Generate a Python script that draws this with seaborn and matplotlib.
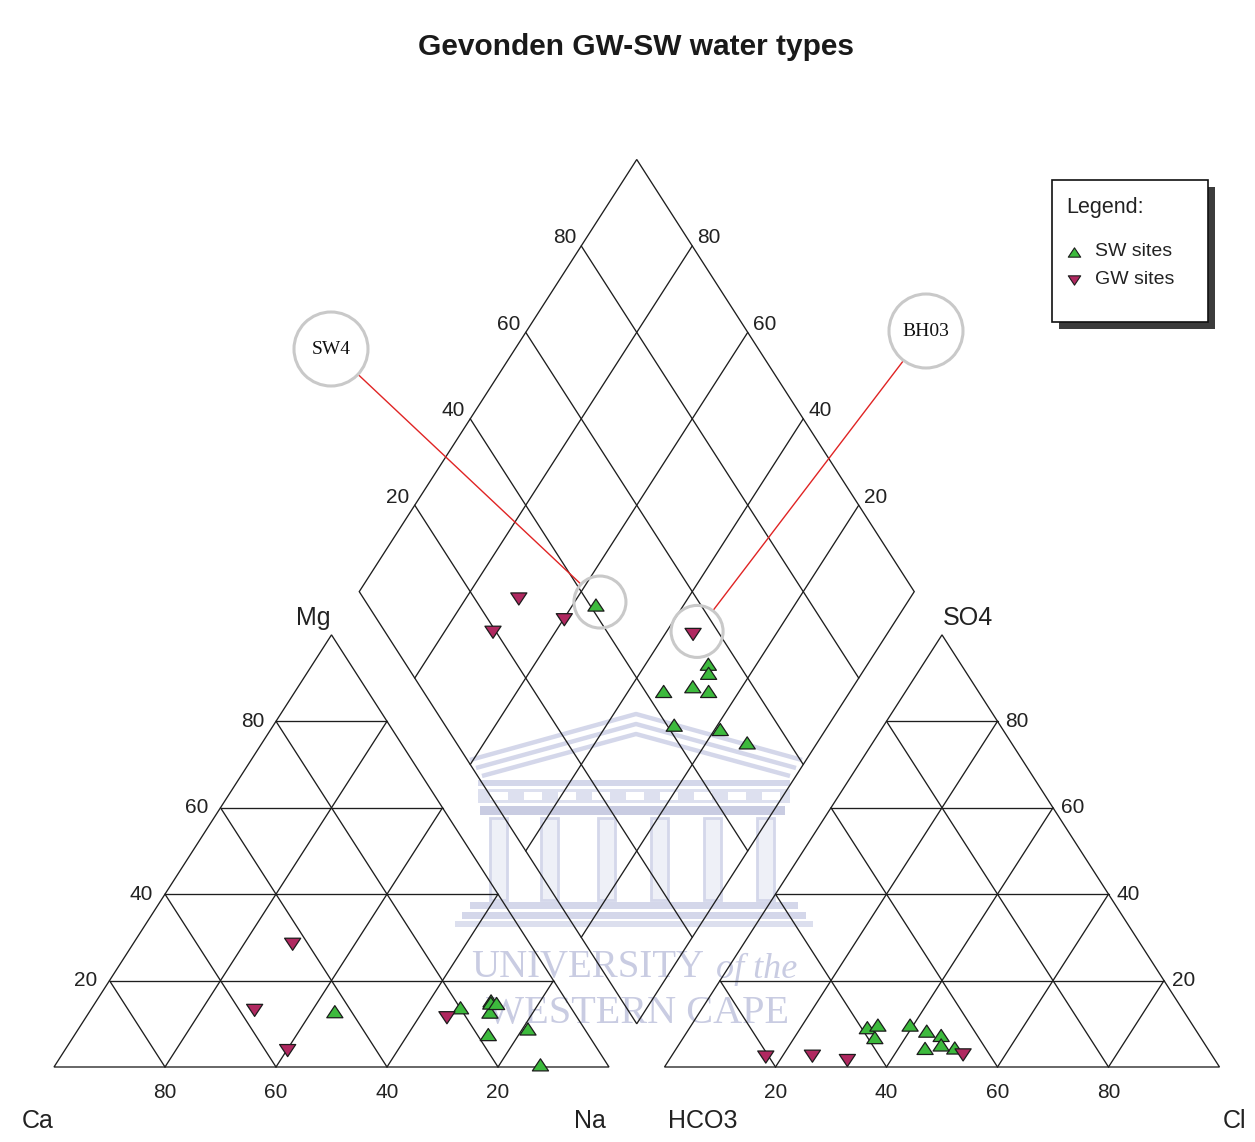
import numpy as np
import pandas as pd
import matplotlib
matplotlib.use("Agg")
import matplotlib.pyplot as plt
from matplotlib.patches import Polygon, Rectangle, Ellipse
from matplotlib.path import Path
import seaborn as sns

# ---------------------------------------------------------------------------
# Major ion composition (percent of meq/L)
# ---------------------------------------------------------------------------
# Surface-water sites
sw_ca = [43.0, 19.9, 15.1, 13.6, 13.9, 12.9, 18.0, 10.2, 12.1]
sw_mg = [12.8, 13.7, 12.7, 15.3, 14.8, 14.7, 7.5, 8.8, 0.5]
sw_na = [44.2, 66.4, 72.2, 71.1, 71.3, 72.4, 74.5, 81.0, 87.4]
sw_hco3 = [58.9, 56.7, 58.7, 50.9, 45.5, 46.5, 48.6, 50.9, 47.6]
sw_so4 = [9.1, 9.7, 6.8, 9.7, 4.4, 7.3, 8.3, 4.3, 5.1]
sw_cl = [32.0, 33.6, 34.5, 39.4, 50.1, 46.2, 43.1, 44.8, 47.3]

# Groundwater sites
gw_ca = [42.8, 57.3, 56.0, 23.5]
gw_mg = [28.4, 13.1, 3.8, 11.4]
gw_na = [28.8, 29.6, 40.2, 65.1]
gw_hco3 = [80.6, 72.1, 66.3, 44.8]
gw_so4 = [2.3, 2.5, 1.5, 2.8]
gw_cl = [17.1, 25.4, 32.2, 52.4]

group_names = ["SW sites", "GW sites"]
tick_values = [20, 40, 60, 80]
# highlighted samples: label -> (group, index in group)
callouts = {"SW4": ("SW", 0), "BH03": ("GW", 3)}

title = "Gevonden GW-SW water types"

# ---------------------------------------------------------------------------
# Piper geometry (triangle side = 100, gap between triangles = 10)
# ---------------------------------------------------------------------------
S = np.sqrt(3) / 2
GAP = 10.0
OFF = 100 + GAP


def cation_xy(ca, mg, na):
    tot = np.asarray(ca) + np.asarray(mg) + np.asarray(na)
    mg = 100 * np.asarray(mg) / tot
    na = 100 * np.asarray(na) / tot
    return na + mg / 2, mg * S


def anion_xy(hco3, so4, cl):
    tot = np.asarray(hco3) + np.asarray(so4) + np.asarray(cl)
    so4 = 100 * np.asarray(so4) / tot
    cl = 100 * np.asarray(cl) / tot
    return OFF + cl + so4 / 2, so4 * S


def diamond_xy(ca, mg, na, hco3, so4, cl):
    xc, yc = cation_xy(ca, mg, na)
    xa, ya = anion_xy(hco3, so4, cl)
    t = (xa - xc) + (ya - yc) / (2 * S)
    return xc + t / 2, yc + t * S


# page layout: map pixel positions to diagram units
X0, SX, Y0, SY = 54.0, 5.55, 1067.0, 4.99
W, H = 1255, 1142


def U(px, py):
    return (px - X0) / SX, (Y0 - py) / SY


def dx(p):
    return p / SX


def dy(p):
    return p / SY


# ---------------------------------------------------------------------------
sns.set_theme(style="white")
plt.rcParams["font.family"] = ["Liberation Sans", "DejaVu Sans"]

fig = plt.figure(figsize=(W / 100, H / 100), dpi=100)
ax = fig.add_axes([0, 0, 1, 1])
ax.set_xlim(U(0, 0)[0], U(W, 0)[0])
ax.set_ylim(U(0, H)[1], U(0, 0)[1])
ax.axis("off")

# --- faint university watermark --------------------------------------------
wm = "#d4d7ea"
wm_dark = "#c9cce2"
for k, (xl, xr, ya, ye) in enumerate([(470, 802, 714, 760), (476, 796, 724, 768), (482, 790, 734, 776)]):
    pts = [U(xl, ye), U(636, ya), U(xr, ye)]
    ax.plot([p[0] for p in pts], [p[1] for p in pts], color=wm, lw=3.2, zorder=0.5,
            solid_capstyle="butt")
for (x, y, w_, h_, c) in [(478, 780, 312, 6, wm), (478, 789, 312, 14, "#dde0ef"),
                          (480, 806, 305, 9, wm_dark), (470, 902, 328, 7, wm),
                          (462, 912, 344, 7, wm), (455, 921, 358, 6, "#dcdfee")]:
    x0_, y0_ = U(x, y + h_)
    ax.add_patch(Rectangle((x0_, y0_), dx(w_), dy(h_), facecolor=c, edgecolor="none", zorder=0.5))
for xw in range(490, 780, 34):
    x0_, y0_ = U(xw, 800)
    ax.add_patch(Rectangle((x0_, y0_), dx(18), dy(8), facecolor="white", edgecolor="none", zorder=0.55))
for xc_ in [490, 541, 598, 651, 704, 757]:
    x0_, y0_ = U(xc_, 900)
    ax.add_patch(Rectangle((x0_, y0_), dx(17), dy(82), facecolor="#eef0f7", edgecolor=wm,
                           lw=2.0, zorder=0.5))
serif = ["Liberation Serif", "DejaVu Serif"]
ax.text(*U(588, 967), "UNIVERSITY", fontsize=28, family=serif, color=wm_dark,
        ha="center", va="center", zorder=0.6)
ax.text(*U(757, 969), "of the", fontsize=26, family=serif, style="italic", color=wm_dark,
        ha="center", va="center", zorder=0.6)
ax.text(*U(638, 1013), "WESTERN CAPE", fontsize=29, family=serif, color=wm_dark,
        ha="center", va="center", zorder=0.6)

# --- grid ------------------------------------------------------------------
line_kw = dict(color="#1e1e1e", lw=0.95, zorder=2, solid_capstyle="round")


def seg(p, q):
    ax.plot([p[0], q[0]], [p[1], q[1]], **line_kw)


for ox in (0, OFF):
    A_, B_, C_ = (ox, 0), (ox + 100, 0), (ox + 50, 100 * S)
    ax.add_patch(Polygon([A_, B_, C_], closed=True, fill=False, edgecolor="#1e1e1e",
                         lw=0.95, zorder=2))
    for k in tick_values:
        seg((ox + k / 2, k * S), (ox + 100 - k / 2, k * S))
        seg((ox + k, 0), (ox + k + (100 - k) / 2, (100 - k) * S))
        seg((ox + 100 - k, 0), (ox + (100 - k) / 2, (100 - k) * S))

d_bot = np.array([100 + GAP / 2, GAP * S])
d_left = d_bot + np.array([-50, 100 * S])
d_right = d_bot + np.array([50, 100 * S])
d_top = d_left + (d_right - d_bot)
ax.add_patch(Polygon([d_bot, d_right, d_top, d_left], closed=True, fill=False,
                     edgecolor="#1e1e1e", lw=0.95, zorder=2))
for k in tick_values:
    f = k / 100
    seg(d_bot + f * (d_right - d_bot), d_left + f * (d_right - d_bot))
    seg(d_bot + f * (d_left - d_bot), d_right + f * (d_left - d_bot))

# --- tick labels -------------------------------------------------------------
tick_fs = 15
tc = "#222222"
for k in tick_values:
    # bottom of cation triangle (Ca %)
    ax.text(100 - k, -dy(25), str(k), ha="center", va="center", fontsize=tick_fs, color=tc)
    # bottom of anion triangle (Cl %)
    ax.text(OFF + k, -dy(25), str(k), ha="center", va="center", fontsize=tick_fs, color=tc)
    # Mg % on left side of cation triangle
    ax.text(k / 2 - dx(12), k * S, str(k), ha="right", va="center", fontsize=tick_fs, color=tc)
    # SO4 % on right side of anion triangle
    ax.text(OFF + 100 - k / 2 + dx(8), k * S, str(k), ha="left", va="center",
            fontsize=tick_fs, color=tc)
    f = k / 100
    pl = d_left + f * (d_top - d_left)
    pr = d_right + f * (d_top - d_right)
    ax.text(pl[0] - dx(5), pl[1] + dy(8), str(k), ha="right", va="center", fontsize=tick_fs, color=tc)
    ax.text(pr[0] + dx(5), pr[1] + dy(8), str(k), ha="left", va="center", fontsize=tick_fs, color=tc)

lab_fs = 18
ax.text(*U(38, 1121), "Ca", ha="center", va="center", fontsize=lab_fs, color=tc)
ax.text(*U(590, 1121), "Na", ha="center", va="center", fontsize=lab_fs, color=tc)
ax.text(*U(703, 1121), "HCO3", ha="center", va="center", fontsize=lab_fs, color=tc)
ax.text(*U(1234, 1121), "Cl", ha="center", va="center", fontsize=lab_fs, color=tc)
ax.text(*U(313, 618), "Mg", ha="center", va="center", fontsize=lab_fs, color=tc)
ax.text(*U(968, 618), "SO4", ha="center", va="center", fontsize=lab_fs, color=tc)

ax.text(*U(636, 47), title, ha="center", va="center", fontsize=21.5, fontweight="bold", color="#1a1a1a")

# --- samples -----------------------------------------------------------------
rows = []
for grp, ca, mg, na, hc, so, cl in [("SW", sw_ca, sw_mg, sw_na, sw_hco3, sw_so4, sw_cl),
                                    ("GW", gw_ca, gw_mg, gw_na, gw_hco3, gw_so4, gw_cl)]:
    xc, yc = cation_xy(ca, mg, na)
    xa, ya = anion_xy(hc, so, cl)
    xd, yd = diamond_xy(ca, mg, na, hc, so, cl)
    for i in range(len(ca)):
        for part, xx, yy in (("cation", xc[i], yc[i]), ("anion", xa[i], ya[i]),
                             ("diamond", xd[i], yd[i])):
            rows.append(dict(group=grp, idx=i, part=part, x=xx, y=yy))
df = pd.DataFrame(rows)

up = Path([(-8, -6), (8, -6), (0, 6), (-8, -6)],
          [Path.MOVETO, Path.LINETO, Path.LINETO, Path.CLOSEPOLY])
down = Path([(-8, 6), (8, 6), (0, -6), (-8, 6)],
            [Path.MOVETO, Path.LINETO, Path.LINETO, Path.CLOSEPOLY])
colors = {"SW": "#3dba3d", "GW": "#b02860"}
markers = {"SW": up, "GW": down}

sns.scatterplot(data=df, x="x", y="y", hue="group", style="group",
                palette=colors, markers=markers, hue_order=["GW", "SW"],
                style_order=["GW", "SW"], s=135, edgecolor="#1c1c1c",
                linewidth=0.9, legend=False, ax=ax, zorder=3)

# --- call-outs -----------------------------------------------------------------
ring = "#c9c9c9"
boxes = {"SW4": (331, 349), "BH03": (926, 331)}
for name, (grp, i) in callouts.items():
    pt = df[(df.group == grp) & (df.idx == i) & (df.part == "diamond")].iloc[0]
    cx, cy = pt.x + dx(4), pt.y + dy(3)
    bx, by = U(*boxes[name])
    # direction in pixel space
    vx, vy = (cx - bx) * SX, (cy - by) * SY
    L = np.hypot(vx, vy)
    ux_, uy_ = vx / L, vy / L
    r_big, r_small = 37, 26
    p0 = (bx + ux_ * r_big / SX, by + uy_ * r_big / SY)
    p1 = (cx - ux_ * r_small / SX, cy - uy_ * r_small / SY)
    ax.plot([p0[0], p1[0]], [p0[1], p1[1]], color="#e02424", lw=1.0, zorder=4)
    ax.add_patch(Ellipse((bx, by), dx(2 * r_big), dy(2 * r_big), facecolor="white",
                         edgecolor=ring, lw=2.2, zorder=4))
    ax.add_patch(Ellipse((cx, cy), dx(2 * r_small), dy(2 * r_small), facecolor="none",
                         edgecolor=ring, lw=2.2, zorder=4))
    ax.text(bx, by, name, ha="center", va="center", fontsize=14, family=serif,
            color="#111", zorder=5)

# --- legend box ---------------------------------------------------------------
lx0, ly0, lx1, ly1 = 1052, 180, 1208, 322
sx0, sy0 = U(lx0 + 7, ly1 + 7)
ax.add_patch(Rectangle((sx0, sy0), dx(lx1 - lx0), dy(ly1 - ly0), facecolor="#3c3c3c",
                       edgecolor="none", zorder=5))
bx0, by0 = U(lx0, ly1)
ax.add_patch(Rectangle((bx0, by0), dx(lx1 - lx0), dy(ly1 - ly0), facecolor="white",
                       edgecolor="#111", lw=1.2, zorder=6))
ax.text(*U(1066, 207), "Legend:", ha="left", va="center", fontsize=15.5, color=tc, zorder=7)
for (yy, grp, name) in [(252, "SW", group_names[0]), (280, "GW", group_names[1])]:
    ax.scatter(*U(1074, yy), marker=markers[grp], s=80, c=colors[grp], edgecolors="#1c1c1c",
               linewidths=0.8, zorder=7)
    ax.text(*U(1095, yy), name, ha="left", va="center", fontsize=14, color=tc, zorder=7)

fig.savefig("out.png", dpi=100)
